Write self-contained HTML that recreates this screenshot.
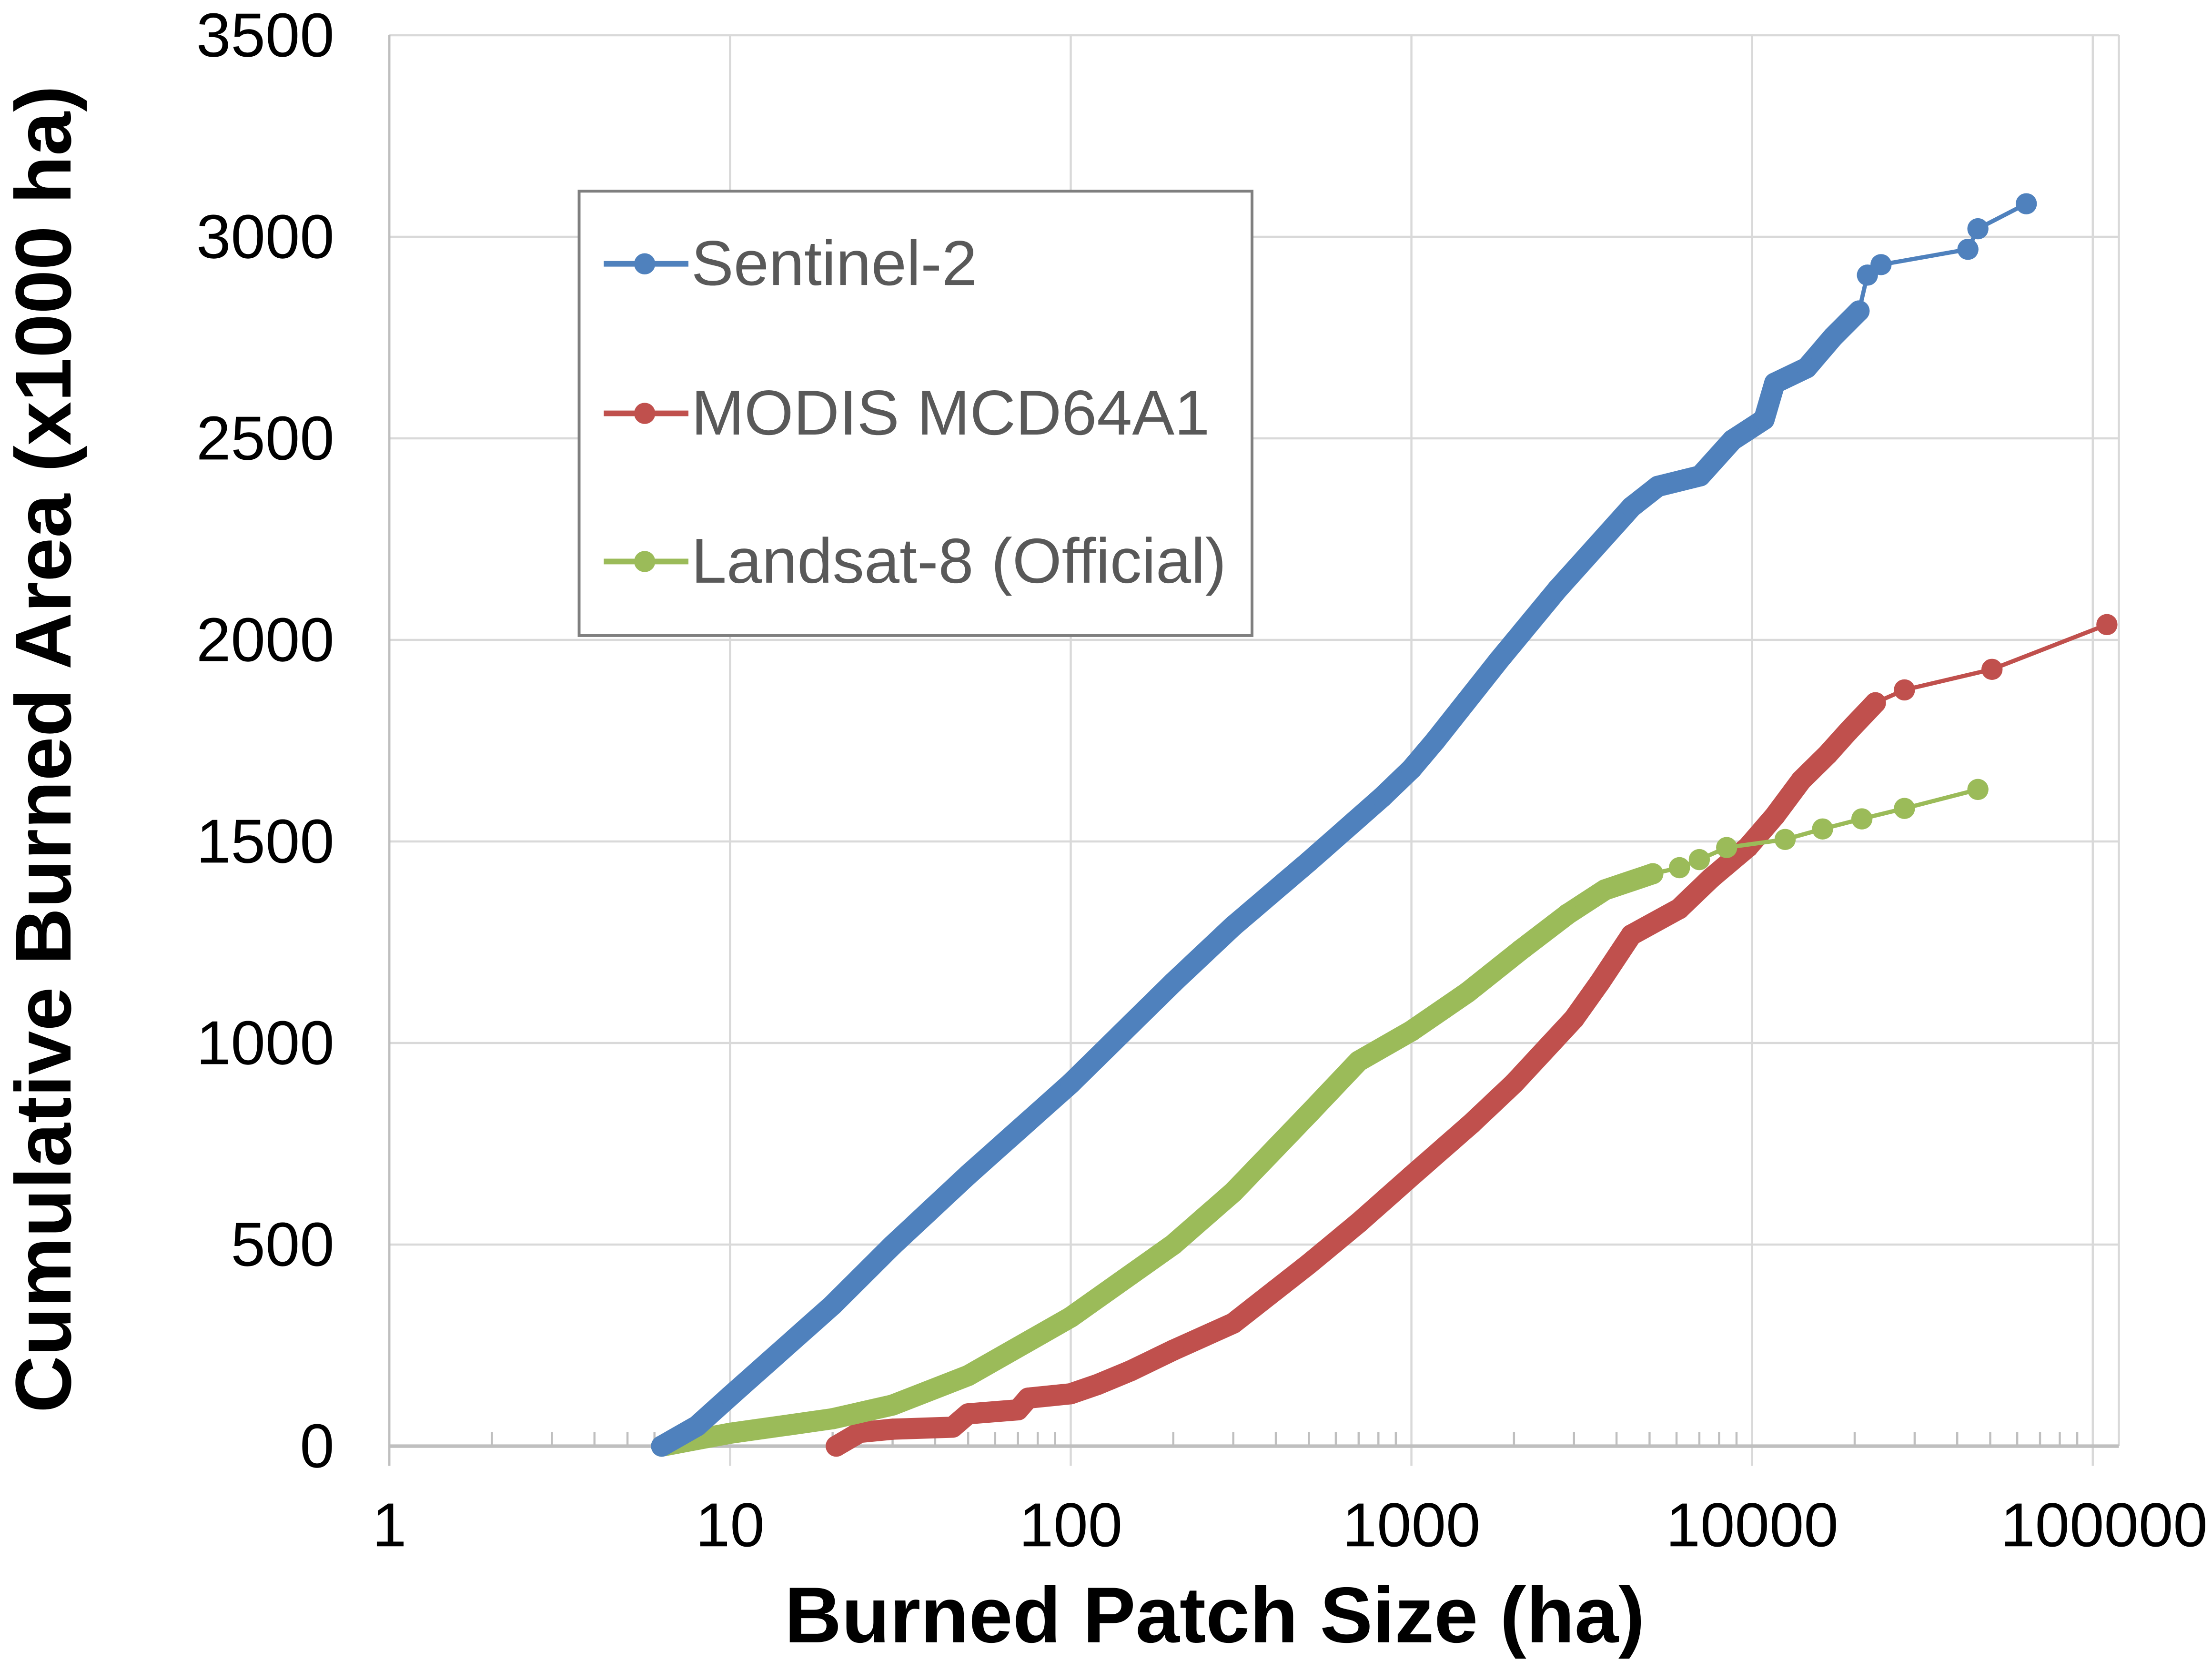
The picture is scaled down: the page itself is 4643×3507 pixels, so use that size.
<!DOCTYPE html>
<html><head><meta charset="utf-8"><style>
html,body{margin:0;padding:0;background:#fff;}
svg{display:block;font-family:"Liberation Sans",Arial,sans-serif;}
</style></head><body>
<svg id="chart" width="4643" height="3507" viewBox="0 0 1568 1184.4" preserveAspectRatio="none" xmlns="http://www.w3.org/2000/svg">
<g id="grid"></g>
<g id="axes"></g>
<g id="series"></g>
<g id="legend">
<rect x="410.5" y="135.5" width="477" height="315" fill="#fff" stroke="#7f7f7f" stroke-width="2"/>
<g>
<line x1="428" y1="187" x2="488" y2="187" stroke="#4f81bd" stroke-width="4"/><circle cx="457" cy="187" r="7.5" fill="#4f81bd"/>
<text x="490" y="202" font-size="45" fill="#595959">Sentinel-2</text></g>
<g>
<line x1="428" y1="293" x2="488" y2="293" stroke="#c0504d" stroke-width="4"/><circle cx="457" cy="293" r="7.5" fill="#c0504d"/>
<text x="490" y="308" font-size="45" fill="#595959">MODIS MCD64A1</text></g>
<g>
<line x1="428" y1="398" x2="488" y2="398" stroke="#9bbb59" stroke-width="4"/><circle cx="457" cy="398" r="7.5" fill="#9bbb59"/>
<text x="490" y="413" font-size="45" fill="#595959">Landsat-8 (Official)</text></g>
</g>
<text x="861" y="1164" font-size="56" font-weight="bold" text-anchor="middle" fill="#000">Burned Patch Size (ha)</text>
<text transform="translate(50,531) rotate(-90)" font-size="56" font-weight="bold" text-anchor="middle" fill="#000">Cumulative Burned Area (x1000 ha)</text>
</svg>
<script>
const xTicks = [1, 10, 100, 1000, 10000, 100000];
const xTickLabels = ["1", "10", "100", "1000", "10000", "100000"];
const yTicks = [0, 500, 1000, 1500, 2000, 2500, 3000, 3500];
const yTickLabels = ["0", "500", "1000", "1500", "2000", "2500", "3000", "3500"];

const sentinelX = [6.3, 8, 10, 20, 30, 50, 100, 200, 300, 500, 820, 1000, 1175, 1807, 2680, 4430, 5290, 7040, 8760, 10840, 11650, 14460, 17300, 20600, 21800, 23900, 43000, 46000, 63800];
const sentinelY = [0, 50, 124, 350, 498, 673, 900, 1150, 1290, 1450, 1610, 1680, 1750, 1950, 2125, 2330, 2381, 2407, 2496, 2547, 2637, 2675, 2752, 2816, 2905, 2931, 2969, 3020, 3082];

const modisX = [20.5, 24, 30, 45, 50, 70, 75, 100, 120, 150, 200, 300, 500, 700, 1000, 1500, 2000, 3000, 3570, 4420, 6110, 7580, 9720, 11650, 13950, 16660, 19200, 23000, 28000, 50600, 110000];
const modisY = [0, 34, 42, 47, 80, 90, 119, 130, 153, 187, 238, 305, 452, 554, 670, 800, 900, 1060, 1150, 1268, 1333, 1409, 1486, 1563, 1652, 1716, 1774, 1844, 1876, 1927, 2038];

const landsatX = [6.3, 10, 20, 30, 50, 100, 200, 300, 500, 700, 1000, 1457, 2087, 2875, 3700, 5110, 6120, 7000, 8420, 12500, 16100, 21000, 28000, 46000];
const landsatY = [0, 32, 68, 102, 175, 320, 500, 630, 825, 955, 1030, 1125, 1230, 1320, 1380, 1420, 1435, 1455, 1485, 1505, 1531, 1556, 1582, 1629];

const NS = "http://www.w3.org/2000/svg";
const X0 = 276, DEC = 241.5, XMAXPX = 1502;
const Y0 = 1025;
function xs(v){ return X0 + Math.log10(v) * DEC; }
function yScale(v){ return Y0 - v * (1000 / 3500); }
function mk(tag, attrs, parent){ const e = document.createElementNS(NS, tag); for (const k in attrs) e.setAttribute(k, attrs[k]); parent.appendChild(e); return e; }

const grid = document.getElementById('grid');
const axes = document.getElementById('axes');
const series = document.getElementById('series');

yTicks.forEach((t, i) => {
  const y = yScale(t);
  if (t > 0) {
    const l = mk('line', {x1: X0, x2: XMAXPX, y1: y, y2: y, stroke: '#d9d9d9', 'stroke-width': 1.5}, grid);
    
    
  }
  const tx = mk('text', {x: 237, y: y + 15, 'font-size': 44, 'text-anchor': 'end', fill: '#000'}, axes);
  tx.textContent = yTickLabels[i];
  
  
});
xTicks.forEach((t, i) => {
  const x = xs(t);
  const l = mk('line', {x1: x, x2: x, y1: yScale(3500), y2: Y0 + 14, stroke: i === 0 ? '#bfbfbf' : '#d9d9d9', 'stroke-width': 1.5}, grid);
  
  
  const tx = mk('text', {x: x + (i === 5 ? 8 : 0), y: 1096, 'font-size': 44, 'text-anchor': 'middle', fill: '#000'}, axes);
  tx.textContent = xTickLabels[i];
  
  
  for (let m = 2; m <= 9; m++) {
    const mx = xs(t * m);
    if (mx > XMAXPX + 1) break;
    const ml = mk('line', {x1: mx, x2: mx, y1: Y0 - 10, y2: Y0, stroke: '#bfbfbf', 'stroke-width': 1.5}, axes);
    
    
  }
});
const rg = mk('line', {x1: XMAXPX, x2: XMAXPX, y1: yScale(3500), y2: Y0, stroke: '#d9d9d9', 'stroke-width': 1.5}, grid);


const xa = mk('line', {x1: X0, x2: XMAXPX, y1: Y0, y2: Y0, stroke: '#bfbfbf', 'stroke-width': 2.5}, axes);



function drawSeries(xv, yv, color, denseLimit, name){
  const g = mk('g', {}, series);
  
  
  const pts = xv.map((v, i) => xs(v).toFixed(1) + ',' + yScale(yv[i]).toFixed(1));
  const dense = [];
  xv.forEach((v, i) => { if (v <= denseLimit) dense.push(pts[i]); });
  const thin = mk('polyline', {points: pts.join(' '), fill: 'none', stroke: color, 'stroke-width': 3, 'stroke-linejoin': 'round'}, g);
  
  
  const thick = mk('polyline', {points: dense.join(' '), fill: 'none', stroke: color, 'stroke-width': 15, 'stroke-linejoin': 'round', 'stroke-linecap': 'round'}, g);
  
  
  xv.forEach((v, i) => {
    const c = mk('circle', {cx: xs(v), cy: yScale(yv[i]), r: 7.5, fill: color}, g);
    
    
  });
}
drawSeries(modisX, modisY, '#c0504d', 23000, 'modis-series');
drawSeries(landsatX, landsatY, '#9bbb59', 5110, 'landsat-series');
drawSeries(sentinelX, sentinelY, '#4f81bd', 20600, 'sentinel-series');
</script>
</body></html>
